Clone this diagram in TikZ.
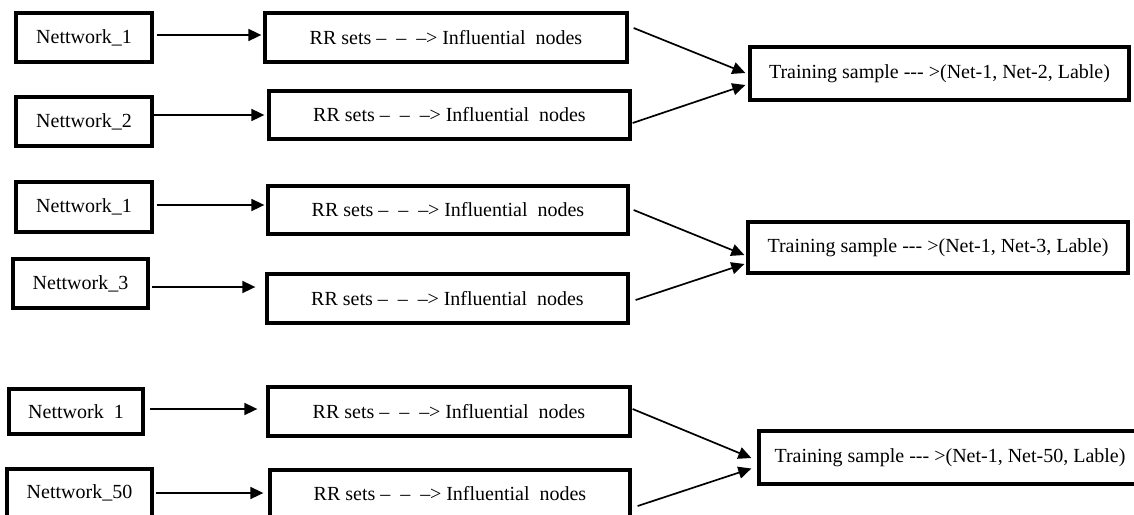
\documentclass[tikz,border=0pt]{standalone}
\usepackage{fontspec}
\setmainfont{Liberation Serif}
\usetikzlibrary{arrows.meta}
\tikzset{
  box/.style={draw=black, line width=3.3pt, rectangle, inner sep=0pt, align=center, font=\fontsize{20}{23}\selectfont},
  arr/.style={draw=black, line width=1.7pt, -{Triangle[length=13pt,width=12pt]}},
}
\newcommand{\rrtext}{RR sets –\hspace{.5em}–\hspace{.5em}–\kern-.02em> Influential\ \ nodes}
\begin{document}
\begin{tikzpicture}[x=1pt,y=-1pt]
\useasboundingbox (0,0) rectangle (1134,514);
\clip (0,0) rectangle (1134,514);
% group 1
\node[box, minimum width=136, minimum height=49] (n11) at (84,37.5) {Nettwork\_1};
\node[box, minimum width=136, minimum height=49] (n12) at (84,121.5) {Nettwork\_2};
\node[box, minimum width=362, minimum height=49] (r11) at (446,37.5) {\rrtext};
\node[box, minimum width=361, minimum height=48] (r12) at (449.5,115) {\rrtext};
\node[box, minimum width=379, minimum height=53] (t1) at (939.5,73.5) {Training sample -{}-{}- >(Net-1, Net-2, Lable)};
\draw[arr] ([shift={(3,-2.5)}]n11.east) -- ([shift={(-2,-2.5)}]r11.west);
\draw[arr] (n12.east |- r12.west) -- ([xshift=-3]r12.west);
\draw[arr] ([shift={(5,-9.5)}]r11.east) -- ([shift={(-3,-0.5)}]t1.west);
\draw[arr] ([shift={(1,8)}]r12.east) -- ([shift={(-3,11.5)}]t1.west);
% group 2
\node[box, minimum width=136, minimum height=50] (n21) at (84,207) {Nettwork\_1};
\node[box, minimum width=135, minimum height=49] (n23) at (80.5,283.5) {Nettwork\_3};
\node[box, minimum width=360, minimum height=48] (r21) at (448,210) {\rrtext};
\node[box, minimum width=361, minimum height=49] (r23) at (447.5,298.5) {\rrtext};
\node[box, minimum width=380, minimum height=51] (t2) at (938,247.5) {Training sample -{}-{}- >(Net-1, Net-3, Lable)};
\draw[arr] ([shift={(3,-2)}]n21.east) -- ([shift={(-2,-5)}]r21.west);
\draw[arr] ([shift={(2,3.5)}]n23.east) -- ([shift={(-10,-11.5)}]r23.west);
\draw[arr] ([shift={(4,0)}]r21.east) -- ([shift={(-2,7.5)}]t2.west);
\draw[arr] ([shift={(6,1.5)}]r23.east) -- ([shift={(-2,16.5)}]t2.west);
% group 3
\node[box, minimum width=134, minimum height=45] (n31) at (76,411.5) {Nettwork~~1};
\node[box, minimum width=145, minimum height=48] (n350) at (79.5,493) {Nettwork\_50};
\node[box, minimum width=362, minimum height=49] (r31) at (449,411.5) {\rrtext};
\node[box, minimum width=360, minimum height=48] (r350) at (450,494) {\rrtext};
\node[box, minimum width=382, minimum height=53] (t3) at (950,457.5) {Training sample -{}-{}- >(Net-1, Net-50, Lable)};
\draw[arr] ([shift={(5,-2.5)}]n31.east) -- ([shift={(-9,-2.5)}]r31.west);
\draw[arr] ([shift={(2,0)}]n350.east) -- ([shift={(-5,-1)}]r350.west);
\draw[arr] ([shift={(1,-2.5)}]r31.east) -- ([shift={(-6,0.5)}]t3.west);
\draw[arr] ([shift={(6,12)}]r350.east) -- ([shift={(-6,11)}]t3.west);
\end{tikzpicture}
\end{document}
